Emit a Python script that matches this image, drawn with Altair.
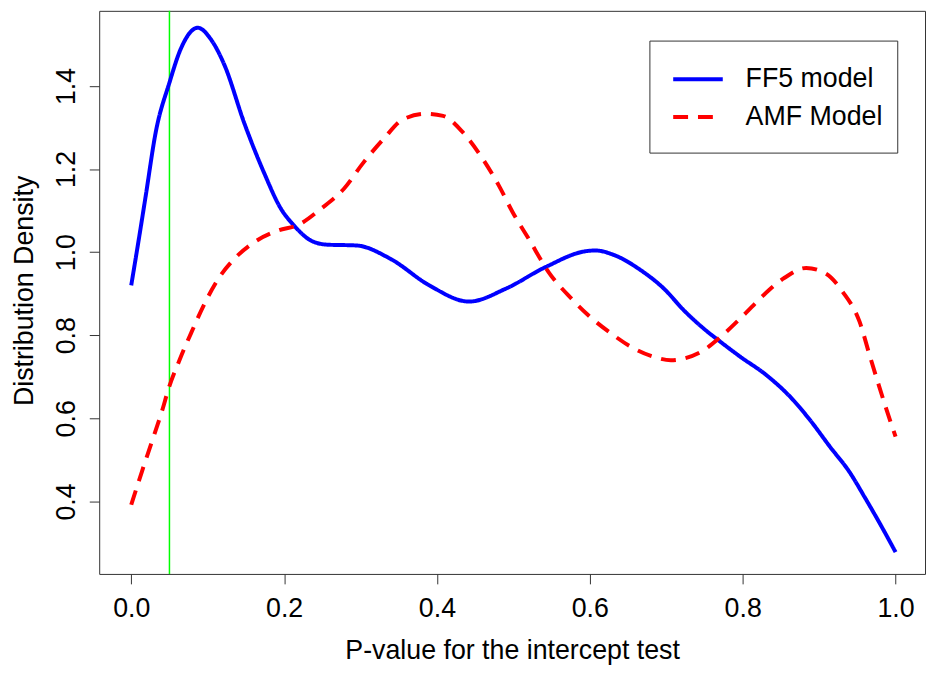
import altair as alt
import pandas as pd

# ---- data ----
series_names = ["FF5 model", "AMF Model"]

ff5_x = [0.000, 0.010, 0.019, 0.032, 0.050, 0.065, 0.087, 0.105, 0.122, 0.148,
         0.174, 0.196, 0.213, 0.235, 0.256, 0.295, 0.339, 0.390, 0.442, 0.490,
         0.542, 0.594, 0.607, 0.633, 0.667, 0.697, 0.723, 0.749, 0.771, 0.797,
         0.831, 0.862, 0.888, 0.914, 0.940, 0.959, 0.980, 1.000]
ff5_y = [0.920, 1.032, 1.136, 1.288, 1.408, 1.490, 1.540, 1.510, 1.450, 1.310,
         1.190, 1.104, 1.064, 1.028, 1.018, 1.016, 0.984, 0.920, 0.881, 0.912,
         0.964, 1.002, 1.004, 0.992, 0.956, 0.912, 0.860, 0.816, 0.784, 0.748,
         0.704, 0.652, 0.596, 0.532, 0.470, 0.412, 0.345, 0.278]

amf_x = [0.000, 0.014, 0.027, 0.040, 0.049, 0.064, 0.079, 0.097, 0.114, 0.135,
         0.161, 0.192, 0.218, 0.248, 0.278, 0.304, 0.330, 0.356, 0.386, 0.408,
         0.434, 0.460, 0.481, 0.499, 0.520, 0.546, 0.576, 0.598, 0.628, 0.654,
         0.684, 0.706, 0.723, 0.749, 0.771, 0.801, 0.827, 0.853, 0.883, 0.909,
         0.931, 0.953, 0.966, 0.978, 0.989, 1.000]
amf_y = [0.392, 0.472, 0.544, 0.616, 0.672, 0.744, 0.808, 0.880, 0.936, 0.984,
         1.024, 1.052, 1.065, 1.104, 1.152, 1.216, 1.272, 1.320, 1.333, 1.328,
         1.288, 1.224, 1.160, 1.096, 1.032, 0.952, 0.888, 0.848, 0.804, 0.772,
         0.748, 0.740, 0.744, 0.764, 0.796, 0.848, 0.896, 0.936, 0.962, 0.948,
         0.904, 0.832, 0.752, 0.680, 0.616, 0.556]

x_ticks = [0.0, 0.2, 0.4, 0.6, 0.8, 1.0]
y_ticks = [0.4, 0.6, 0.8, 1.0, 1.2, 1.4]
cutoff = [0.05]

df = pd.concat([
    pd.DataFrame({"p": ff5_x, "density": ff5_y, "model": series_names[0]}),
    pd.DataFrame({"p": amf_x, "density": amf_y, "model": series_names[1]}),
], ignore_index=True)
cut_df = pd.DataFrame({"p": cutoff})

FONT = "Liberation Sans"
FS = 27
INK = "#333333"

x_scale = alt.Scale(domain=[-0.0419, 1.0385], nice=False, zero=False)
y_scale = alt.Scale(domain=[0.2255, 1.5807], nice=False, zero=False)

x_axis = alt.Axis(values=x_ticks, format=".1f", title="P-value for the intercept test",
                  labelBaseline="alphabetic", labelPadding=33, labelFlush=False,
                  titleY=85, titleBaseline="alphabetic")
y_axis = alt.Axis(values=y_ticks, format=".1f", title="Distribution Density",
                  labelAngle=270, labelAlign="center", labelBaseline="alphabetic",
                  labelPadding=15, titleAngle=270, titleX=-67, titleY=282,
                  titleAlign="center", titleBaseline="alphabetic")

x_enc = alt.X("p:Q", scale=x_scale, axis=x_axis)

legend = alt.Legend(title=" ", titleOrient="bottom", titleFontSize=1, titlePadding=8)

rule = alt.Chart(cut_df).mark_rule(color="#00FF00", strokeWidth=1.5).encode(x=x_enc)

lines = alt.Chart(df).mark_line(strokeWidth=4, strokeCap="butt", interpolate="monotone").encode(
    x=x_enc,
    y=alt.Y("density:Q", scale=y_scale, axis=y_axis),
    color=alt.Color("model:N", scale=alt.Scale(domain=series_names, range=["#0000FF", "#FF0000"]),
                    legend=legend),
    strokeDash=alt.StrokeDash("model:N", scale=alt.Scale(domain=series_names, range=[[1, 0], [15, 10]]),
                              legend=legend),
)

chart = alt.layer(rule, lines).properties(
    width=833, height=568,
    autosize=alt.AutoSizeParams(type="none"),
    padding={"left": 92, "top": 0, "right": 1, "bottom": 91},
    background="white",
).configure_view(
    stroke=INK, strokeWidth=1
).configure_axis(
    domain=False, grid=False, ticks=True, tickColor=INK, tickSize=10, tickWidth=1,
    labelFont=FONT, labelFontSize=FS, labelColor="black", labelOverlap=False, labelBound=False,
    titleFont=FONT, titleFontSize=FS, titleColor="black", titleFontWeight="normal",
).configure_legend(
    orient="none", legendX=555, legendY=30, padding=14,
    strokeColor=INK, fillColor="white",
    symbolType="M-1.087,0L1.087,0", symbolSize=2116, symbolStrokeWidth=4,
    symbolOffset=10, labelOffset=23, rowPadding=-16,
    labelFont=FONT, labelFontSize=FS, labelColor="black", labelLimit=400,
)

chart.save("out.html", embed_options={"renderer": "svg", "actions": False})
